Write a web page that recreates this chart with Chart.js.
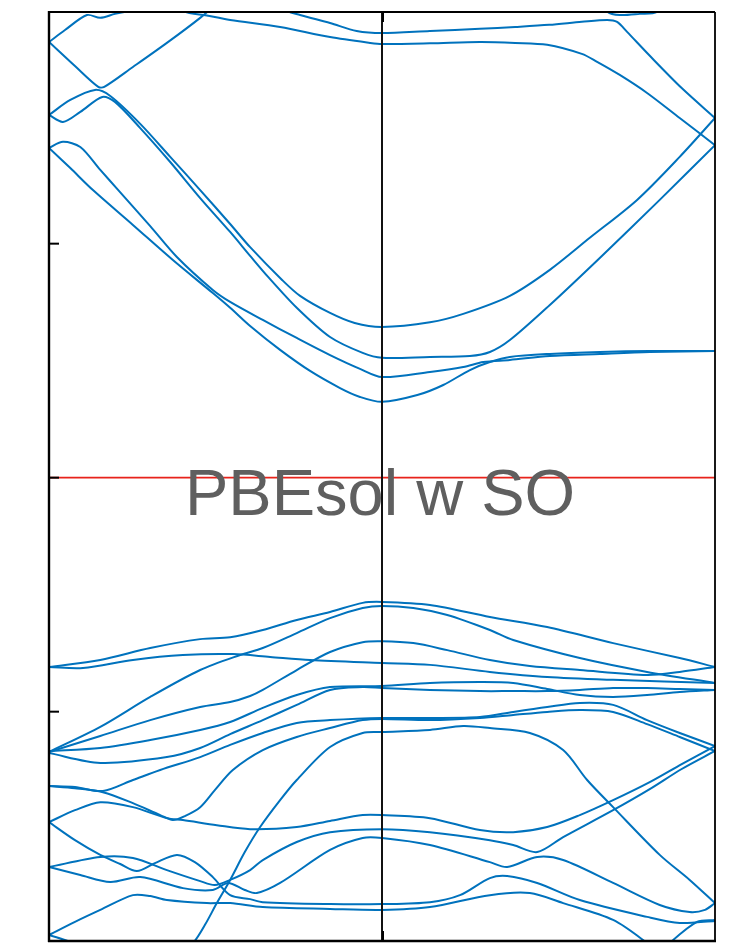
<!DOCTYPE html>
<html>
<head>
<meta charset="utf-8">
<script src="https://cdn.jsdelivr.net/npm/chart.js@4.4.0/dist/chart.umd.min.js"></script>
<style>
  html, body { margin: 0; padding: 0; background: #ffffff; }
  #wrap { width: 739px; height: 945px; }
</style>
</head>
<body>
<div id="wrap"><canvas id="c" width="739" height="945"></canvas></div>
<script>
// Band energies in eV (Fermi level = 0) along the k-path.
// k = 0 and k = 1 are the zone-boundary points, k = 0.5 is Gamma.
// Each entry is [k, E].

// conduction bands
const cb1 = [[0,1.409],[0.032,1.323],[0.066,1.229],[0.126,1.080],[0.186,0.930],[0.246,0.789],[0.272,0.726],[0.302,0.648],[0.347,0.546],[0.392,0.456],[0.437,0.383],[0.467,0.345],[0.5,0.324],[0.553,0.353],[0.592,0.396],[0.632,0.460],[0.662,0.494],[0.692,0.516],[0.752,0.529],[0.827,0.537],[0.902,0.541],[1,0.541]];
const cb2 = [[0,1.409],[0.021,1.435],[0.047,1.413],[0.077,1.315],[0.104,1.229],[0.152,1.075],[0.192,0.943],[0.246,0.802],[0.272,0.751],[0.321,0.674],[0.372,0.597],[0.422,0.524],[0.467,0.465],[0.5,0.430],[0.572,0.452],[0.622,0.473],[0.652,0.494],[0.692,0.503],[0.752,0.520],[0.827,0.529],[0.902,0.537],[1,0.541]];
const cb3 = [[0,1.550],[0.021,1.520],[0.047,1.563],[0.080,1.627],[0.099,1.606],[0.137,1.494],[0.182,1.349],[0.227,1.195],[0.272,1.050],[0.302,0.948],[0.329,0.858],[0.372,0.726],[0.422,0.601],[0.471,0.533],[0.5,0.512],[0.572,0.516],[0.632,0.520],[0.662,0.537],[0.692,0.588],[0.752,0.738],[0.827,0.939],[0.917,1.187],[1,1.421]];
const cb4 = [[0,1.550],[0.032,1.614],[0.069,1.657],[0.092,1.631],[0.137,1.512],[0.182,1.371],[0.227,1.229],[0.272,1.084],[0.302,0.985],[0.350,0.845],[0.377,0.777],[0.422,0.704],[0.459,0.661],[0.5,0.644],[0.572,0.664],[0.622,0.700],[0.692,0.777],[0.752,0.888],[0.812,1.025],[0.883,1.187],[0.947,1.371],[1,1.537]];
const cb5 = [[0,1.862],[0.039,1.759],[0.074,1.670],[0.083,1.670],[0.126,1.755],[0.177,1.858],[0.227,1.965],[0.249,2.020],[0.279,2.106]];
const cb6 = [[0,1.862],[0.024,1.913],[0.057,1.977],[0.077,1.965],[0.099,1.982],[0.126,1.999],[0.152,2.041],[0.174,2.106]];
const cb7 = [[0.174,2.084],[0.201,1.995],[0.237,1.975],[0.272,1.956],[0.347,1.926],[0.422,1.883],[0.482,1.858],[0.5,1.853],[0.572,1.856],[0.647,1.862],[0.700,1.858],[0.748,1.850],[0.800,1.811],[0.823,1.777],[0.857,1.721],[0.898,1.644],[0.947,1.537],[1,1.421]];
const cb8 = [[0.332,2.063],[0.354,1.999],[0.377,1.977],[0.422,1.943],[0.462,1.909],[0.5,1.900],[0.572,1.909],[0.647,1.918],[0.700,1.926],[0.751,1.935],[0.800,1.948],[0.838,1.956],[0.853,1.948],[0.868,1.905],[0.901,1.806],[0.950,1.665],[1,1.537]];
const cb9 = [[0.824,2.063],[0.839,1.990],[0.857,1.977],[0.887,1.982],[0.913,1.990],[0.928,2.050]];

// valence bands
const vb1 = [[0,-0.809],[0.077,-0.779],[0.152,-0.728],[0.227,-0.690],[0.272,-0.682],[0.321,-0.651],[0.372,-0.608],[0.422,-0.574],[0.471,-0.535],[0.5,-0.531],[0.572,-0.544],[0.662,-0.595],[0.748,-0.638],[0.847,-0.707],[0.947,-0.771],[1,-0.809]];
const vb2 = [[0,-1.172],[0.077,-1.065],[0.152,-0.937],[0.227,-0.822],[0.287,-0.758],[0.321,-0.728],[0.372,-0.664],[0.422,-0.600],[0.471,-0.557],[0.5,-0.548],[0.547,-0.557],[0.598,-0.587],[0.662,-0.651],[0.697,-0.694],[0.797,-0.771],[0.898,-0.830],[1,-0.877]];
const vb3 = [[0,-1.172],[0.077,-1.104],[0.152,-1.036],[0.227,-0.980],[0.272,-0.959],[0.302,-0.933],[0.321,-0.907],[0.372,-0.822],[0.422,-0.745],[0.471,-0.703],[0.5,-0.699],[0.547,-0.707],[0.598,-0.737],[0.662,-0.779],[0.722,-0.805],[0.797,-0.822],[0.898,-0.843],[0.947,-0.830],[1,-0.809]];
const vb4 = [[0,-0.809],[0.051,-0.813],[0.126,-0.779],[0.201,-0.758],[0.276,-0.754],[0.332,-0.766],[0.392,-0.779],[0.5,-0.792],[0.572,-0.800],[0.662,-0.830],[0.748,-0.852],[0.847,-0.864],[1,-0.877]];
const vb5 = [[0,-1.168],[0.077,-1.155],[0.152,-1.121],[0.227,-1.078],[0.272,-1.044],[0.321,-0.984],[0.372,-0.929],[0.422,-0.895],[0.5,-0.890],[0.572,-0.877],[0.647,-0.873],[0.697,-0.877],[0.748,-0.903],[0.797,-0.929],[0.847,-0.937],[0.898,-0.929],[0.947,-0.916],[1,-0.907]];
const vb6 = [[0,-1.177],[0.077,-1.219],[0.177,-1.194],[0.227,-1.155],[0.272,-1.096],[0.321,-1.036],[0.372,-0.971],[0.422,-0.907],[0.471,-0.895],[0.5,-0.899],[0.572,-0.907],[0.647,-0.912],[0.697,-0.912],[0.748,-0.912],[0.797,-0.907],[0.847,-0.899],[0.898,-0.899],[0.947,-0.903],[1,-0.907]];
const vb7 = [[0,-1.318],[0.039,-1.322],[0.081,-1.339],[0.126,-1.292],[0.167,-1.249],[0.227,-1.194],[0.272,-1.142],[0.321,-1.091],[0.372,-1.048],[0.422,-1.036],[0.5,-1.027],[0.572,-1.027],[0.647,-1.023],[0.697,-1.001],[0.748,-0.980],[0.797,-0.963],[0.847,-0.971],[0.898,-1.036],[0.947,-1.091],[1,-1.147]];
const vb8 = [[0,-1.318],[0.039,-1.327],[0.081,-1.344],[0.126,-1.391],[0.167,-1.442],[0.186,-1.463],[0.204,-1.446],[0.227,-1.408],[0.249,-1.335],[0.276,-1.249],[0.321,-1.164],[0.372,-1.108],[0.422,-1.070],[0.471,-1.036],[0.5,-1.031],[0.572,-1.036],[0.647,-1.027],[0.697,-1.014],[0.748,-1.001],[0.797,-0.993],[0.847,-1.001],[0.898,-1.053],[0.947,-1.108],[1,-1.168]];
const vb9 = [[0,-1.472],[0.039,-1.421],[0.077,-1.387],[0.126,-1.408],[0.177,-1.455],[0.201,-1.463],[0.252,-1.485],[0.302,-1.502],[0.372,-1.493],[0.422,-1.467],[0.471,-1.442],[0.5,-1.442],[0.572,-1.455],[0.647,-1.506],[0.697,-1.515],[0.748,-1.493],[0.797,-1.442],[0.847,-1.378],[0.902,-1.301],[0.950,-1.224],[1,-1.147]];
const vb10 = [[0,-1.664],[0.077,-1.621],[0.126,-1.625],[0.177,-1.677],[0.227,-1.724],[0.249,-1.741],[0.272,-1.719],[0.302,-1.677],[0.321,-1.634],[0.372,-1.557],[0.422,-1.515],[0.5,-1.502],[0.572,-1.515],[0.662,-1.549],[0.697,-1.570],[0.733,-1.600],[0.772,-1.536],[0.847,-1.421],[0.902,-1.331],[0.950,-1.245],[1,-1.168]];
const vb11 = [[0,-1.664],[0.047,-1.698],[0.092,-1.728],[0.137,-1.707],[0.201,-1.754],[0.246,-1.762],[0.269,-1.732],[0.294,-1.762],[0.312,-1.775],[0.347,-1.732],[0.422,-1.591],[0.471,-1.540],[0.5,-1.540],[0.572,-1.570],[0.662,-1.643],[0.688,-1.664],[0.733,-1.621],[0.772,-1.634],[0.847,-1.732],[0.917,-1.826],[0.962,-1.856],[0.985,-1.847],[1,-1.818]];
const vb12 = [[0,-1.472],[0.039,-1.549],[0.077,-1.612],[0.107,-1.651],[0.132,-1.681],[0.159,-1.647],[0.192,-1.612],[0.219,-1.643],[0.246,-1.707],[0.272,-1.784],[0.302,-1.801],[0.321,-1.814],[0.422,-1.822],[0.5,-1.822],[0.572,-1.814],[0.617,-1.784],[0.662,-1.711],[0.688,-1.702],[0.733,-1.732],[0.797,-1.805],[0.898,-1.877],[0.947,-1.903],[1,-1.894]];
const vb13 = [[0,-1.954],[0.039,-1.898],[0.077,-1.847],[0.126,-1.784],[0.152,-1.788],[0.177,-1.805],[0.237,-1.818],[0.272,-1.818],[0.321,-1.835],[0.422,-1.843],[0.5,-1.847],[0.572,-1.835],[0.662,-1.784],[0.722,-1.775],[0.772,-1.818],[0.847,-1.890],[0.898,-1.989],[0.917,-2.040]];
const vb14 = [[0,-1.954],[0.035,-1.989],[0.077,-2.061],[0.182,-2.061],[0.216,-1.989],[0.234,-1.912],[0.252,-1.818],[0.272,-1.719],[0.294,-1.600],[0.317,-1.493],[0.347,-1.378],[0.372,-1.292],[0.422,-1.151],[0.471,-1.091],[0.5,-1.087],[0.572,-1.078],[0.622,-1.061],[0.662,-1.070],[0.722,-1.091],[0.772,-1.164],[0.808,-1.292],[0.847,-1.408],[0.917,-1.612],[0.962,-1.719],[1,-1.818]];
const vb15 = [[0.902,-2.082],[0.932,-1.989],[0.973,-1.898],[1,-1.890]];

const bands = [cb1, cb2, cb3, cb4, cb5, cb6, cb7, cb8, cb9,
               vb1, vb2, vb3, vb4, vb5, vb6, vb7, vb8, vb9, vb10, vb11, vb12, vb13, vb14, vb15];

// axis settings
const energyRange = [-1.98, 1.99];
const energyTicks = [-1, 0, 1];
const kTicks = [0.5];
const fermiLevel = 0;
const gammaK = 0.5;
const caption = 'PBEsol w SO';

const bandColor = '#0072bd';

// frame, Fermi level, Gamma divider, inward ticks and caption
const framePlugin = {
  id: 'bandFrame',
  afterDatasetsDraw(chart) {
    const { ctx, chartArea: a, scales: { x, y } } = chart;
    const seg = (x1, y1, x2, y2) => { ctx.beginPath(); ctx.moveTo(x1, y1); ctx.lineTo(x2, y2); ctx.stroke(); };
    ctx.save();
    ctx.lineCap = 'butt';

    const yf = y.getPixelForValue(fermiLevel);
    ctx.strokeStyle = '#e8231b';
    ctx.lineWidth = 1.6;
    seg(a.left, yf, a.right, yf);

    const xg = x.getPixelForValue(gammaK);
    ctx.strokeStyle = '#111111';
    ctx.lineWidth = 2;
    seg(xg, a.top, xg, a.bottom);

    ctx.strokeStyle = '#000000';
    ctx.lineWidth = 1.8;
    seg(a.left, a.top, a.right, a.top);
    seg(a.right, a.top, a.right, a.bottom);
    ctx.lineWidth = 2.4;
    seg(a.left, a.top - 1, a.left, a.bottom + 1);
    seg(a.left - 1, a.bottom, a.right + 1, a.bottom);

    ctx.lineWidth = 2;
    energyTicks.forEach(v => {
      const py = y.getPixelForValue(v);
      seg(a.left, py, a.left + 10, py);
    });
    kTicks.forEach(v => {
      const px = x.getPixelForValue(v) + 1;
      seg(px, a.top, px, a.top + 10);
      seg(px, a.bottom, px, a.bottom - 10);
    });

    ctx.fillStyle = '#5f5f5f';
    ctx.font = '65px "Liberation Sans", Arial, Helvetica, sans-serif';
    ctx.textAlign = 'center';
    ctx.textBaseline = 'alphabetic';
    ctx.fillText(caption, xg - 2, yf + 37);
    ctx.restore();
  }
};

new Chart(document.getElementById('c'), {
  type: 'line',
  data: {
    datasets: bands.map(b => ({
      data: b.map(([k, e]) => ({ x: k, y: e })),
      borderColor: bandColor,
      borderWidth: 2,
      pointRadius: 0,
      fill: false,
      tension: 0.3,
      capBezierPoints: false
    }))
  },
  options: {
    responsive: false,
    animation: false,
    devicePixelRatio: 1,
    events: [],
    layout: { padding: { left: 49, right: 24, top: 12, bottom: 4 } },
    scales: {
      x: { type: 'linear', min: 0, max: 1, display: false },
      y: { type: 'linear', min: energyRange[0], max: energyRange[1], display: false }
    },
    plugins: { legend: { display: false }, tooltip: { enabled: false } }
  },
  plugins: [framePlugin]
});
</script>
</body>
</html>
